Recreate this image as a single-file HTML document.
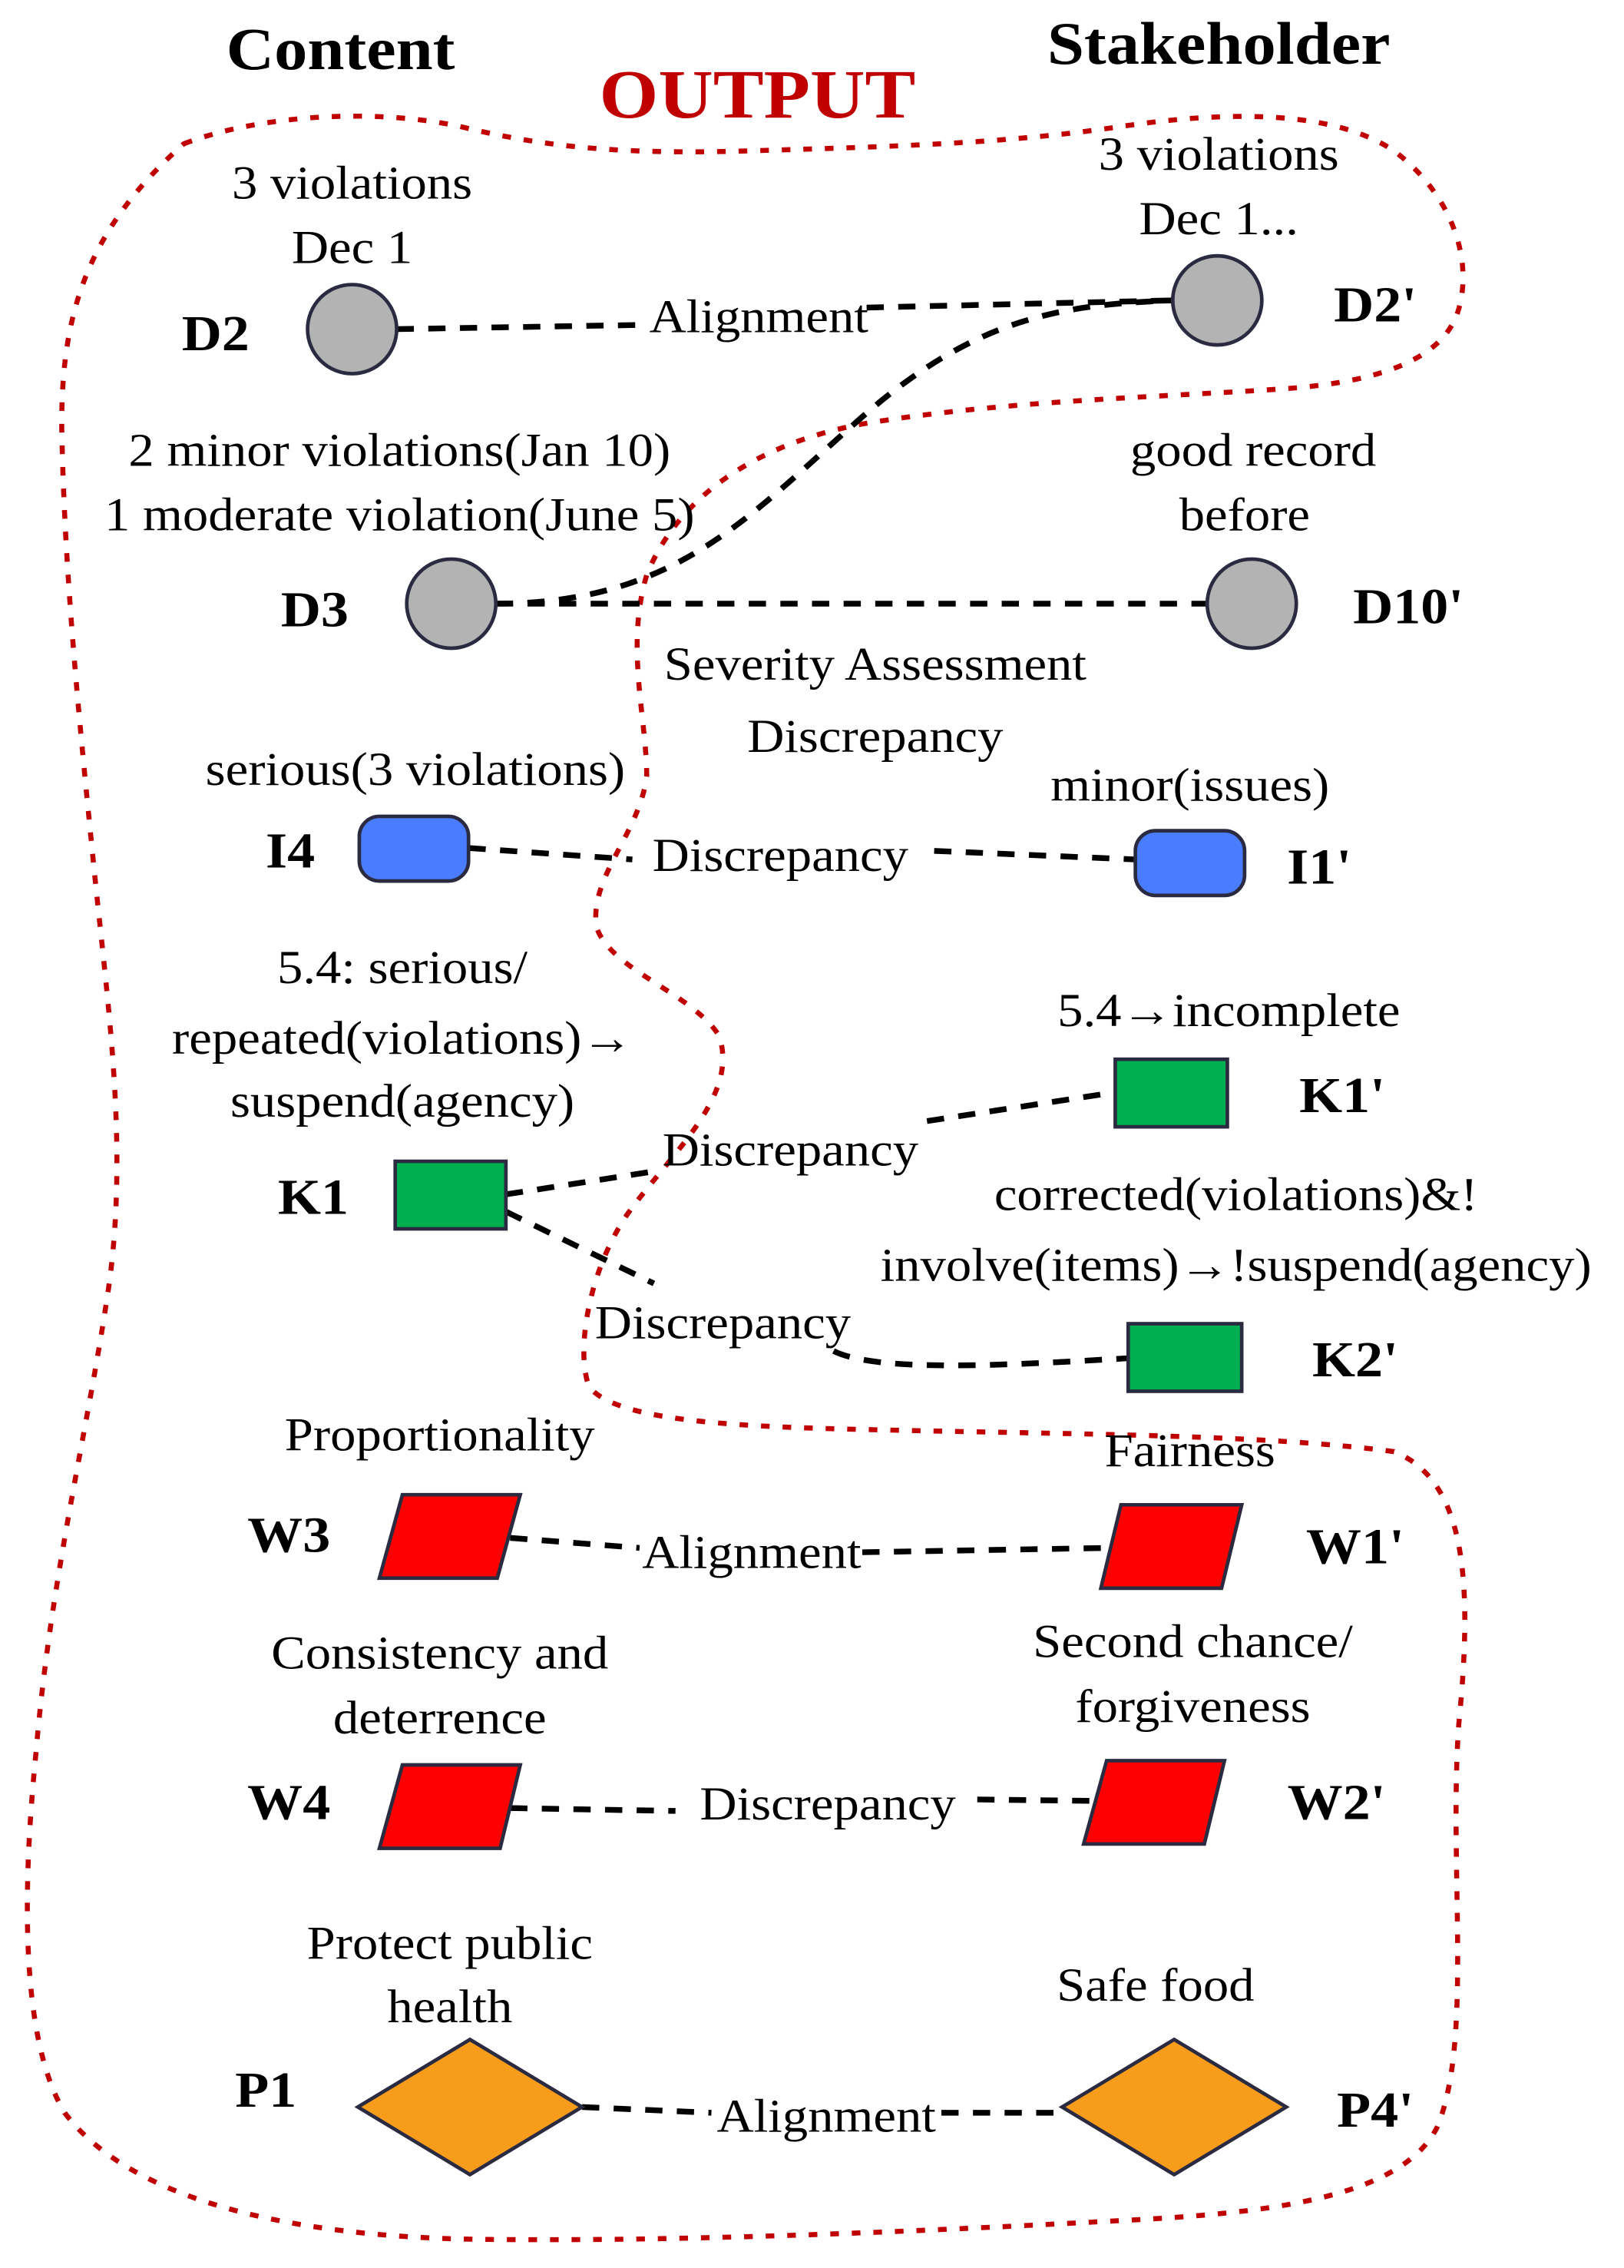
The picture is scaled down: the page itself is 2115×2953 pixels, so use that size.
<!DOCTYPE html>
<html><head><meta charset="utf-8">
<style>
html,body{margin:0;padding:0;background:#fff;}
svg{display:block;}
text{font-family:"Liberation Serif",serif;transform-box:fill-box;transform-origin:center;}
.l{font-size:33px;fill:#000;text-anchor:middle;dominant-baseline:central;transform:scaleX(1.08);}
.b{font-size:35px;font-weight:bold;fill:#000;text-anchor:middle;dominant-baseline:central;transform:scaleX(1.1);}
.c{fill:none;stroke:#000;stroke-width:4;stroke-dasharray:12 10;}
.n{stroke:#2a2a40;stroke-width:2.5;}
</style></head>
<body>
<svg width="2115" height="2953" viewBox="0 0 1130 1578" preserveAspectRatio="none" xmlns="http://www.w3.org/2000/svg">
<rect width="1130" height="1578" fill="#fff"/>
<path d="M128,100 C180,80 260,75 320,88 C370,100 420,108 520,105 C620,102 700,100 780,88 C860,76 930,78 970,105 C1010,135 1025,180 1015,215 C1005,250 960,265 900,270 C820,276 700,278 600,295 C520,310 470,350 450,400 C435,450 450,500 450,540 C445,580 410,610 415,645 C425,675 480,690 500,720 C515,760 470,800 440,840 C410,880 400,940 410,965 C430,990 520,993 620,995 C750,998 880,998 970,1010 C1020,1030 1025,1100 1015,1200 C1008,1300 1025,1420 1000,1480 C975,1530 880,1540 780,1545 C650,1552 480,1560 330,1558 C200,1556 90,1530 45,1470 C15,1420 15,1320 25,1220 C35,1100 60,1000 75,900 C90,800 75,700 65,600 C55,500 45,400 43,300 C42,220 60,160 128,100 Z" fill="none" stroke="#c00000" stroke-width="3.5" stroke-dasharray="6 9"/>
<text x="237" y="34" class="b" style="font-size:42px">Content</text>
<text x="848" y="30" class="b" style="font-size:42px">Stakeholder</text>
<text x="527" y="66" class="b" style="font-size:48px;fill:#c00000">OUTPUT</text>
<path class="c" d="M276,229 L450,226"/>
<path class="c" d="M603,214 L816,209"/>
<path class="c" d="M345,420 C470,420 520,360 600,290 C680,220 740,212 816,209"/>
<path class="c" d="M345,420 L840,420"/>
<path class="c" d="M326,590 L440,598"/>
<path class="c" d="M650,592 L790,598"/>
<path class="c" d="M352,831 L455,815"/>
<path class="c" d="M645,780 L776,760"/>
<path class="c" d="M352,843 L455,893"/>
<path class="c" d="M580,940 C610,955 700,950 785,945"/>
<path class="c" d="M355,1070 L445,1077"/>
<path class="c" d="M600,1080 L770,1077"/>
<path class="c" d="M355,1258 L470,1260"/>
<path class="c" d="M680,1252 L760,1253"/>
<path class="c" d="M405,1466 L495,1470"/>
<path class="c" d="M655,1470 L740,1470"/>
<g fill="#b3b3b3">
<circle cx="245" cy="229" r="31" class="n"/>
<circle cx="847" cy="209" r="31" class="n"/>
<circle cx="314" cy="420" r="31" class="n"/>
<circle cx="871" cy="420" r="31" class="n"/>
</g>
<rect x="250" y="568" width="76" height="45" rx="14" fill="#4a7cff" class="n"/>
<rect x="790" y="578" width="76" height="45" rx="14" fill="#4a7cff" class="n"/>
<rect x="275" y="808" width="77" height="47" fill="#00b050" class="n"/>
<rect x="776" y="737" width="78" height="47" fill="#00b050" class="n"/>
<rect x="785" y="921" width="79" height="47" fill="#00b050" class="n"/>
<polygon points="280,1040 362,1040 346,1098 264,1098" fill="#ff0000" class="n"/>
<polygon points="780,1047 864,1047 850,1105 766,1105" fill="#ff0000" class="n"/>
<polygon points="280,1228 362,1228 348,1286 264,1286" fill="#ff0000" class="n"/>
<polygon points="770,1225 852,1225 838,1283 754,1283" fill="#ff0000" class="n"/>
<polygon points="249,1466 327,1419 405,1466 327,1513" fill="#f89c1c" class="n"/>
<polygon points="739,1466 817,1419 895,1466 817,1513" fill="#f89c1c" class="n"/>
<text x="150" y="232" class="b">D2</text>
<text x="957" y="212" class="b">D2'</text>
<text x="219" y="424" class="b">D3</text>
<text x="980" y="422" class="b">D10'</text>
<text x="202" y="592" class="b">I4</text>
<text x="918" y="603" class="b">I1'</text>
<text x="218" y="833" class="b">K1</text>
<text x="934" y="762" class="b">K1'</text>
<text x="943" y="946" class="b">K2'</text>
<text x="201" y="1068" class="b">W3</text>
<text x="943" y="1076" class="b">W1'</text>
<text x="201" y="1254" class="b">W4</text>
<text x="930" y="1254" class="b">W2'</text>
<text x="185" y="1454" class="b">P1</text>
<text x="957" y="1468" class="b">P4'</text>
<text x="245" y="127" class="l">3 violations</text>
<text x="245" y="172" class="l">Dec 1</text>
<text x="848" y="107" class="l">3 violations</text>
<text x="848" y="152" class="l">Dec 1...</text>
<text x="528" y="220" class="l">Alignment</text>
<text x="278" y="313" class="l">2 minor violations(Jan 10)</text>
<text x="278" y="358" class="l">1 moderate violation(June 5)</text>
<text x="872" y="313" class="l">good record</text>
<text x="866" y="358" class="l">before</text>
<text x="609" y="462" class="l">Severity Assessment</text>
<text x="609" y="512" class="l">Discrepancy</text>
<text x="289" y="535" class="l">serious(3 violations)</text>
<text x="828" y="546" class="l">minor(issues)</text>
<text x="543" y="595" class="l">Discrepancy</text>
<text x="280" y="673" class="l">5.4:  serious/</text>
<text x="280" y="722" class="l">repeated(violations)→</text>
<text x="280" y="766" class="l">suspend(agency)</text>
<text x="855" y="703" class="l">5.4→incomplete</text>
<text x="550" y="800" class="l">Discrepancy</text>
<text x="860" y="831" class="l">corrected(violations)&amp;!</text>
<text x="860" y="880" class="l">involve(items)→!suspend(agency)</text>
<text x="503" y="920" class="l">Discrepancy</text>
<text x="306" y="998" class="l">Proportionality</text>
<text x="828" y="1009" class="l">Fairness</text>
<text x="523" y="1080" class="l">Alignment</text>
<text x="306" y="1150" class="l">Consistency and</text>
<text x="306" y="1195" class="l">deterrence</text>
<text x="830" y="1142" class="l">Second chance/</text>
<text x="830" y="1187" class="l">forgiveness</text>
<text x="576" y="1255" class="l">Discrepancy</text>
<text x="313" y="1352" class="l">Protect public</text>
<text x="313" y="1396" class="l">health</text>
<text x="804" y="1381" class="l">Safe food</text>
<text x="575" y="1472" class="l">Alignment</text>
</svg>
</body></html>
